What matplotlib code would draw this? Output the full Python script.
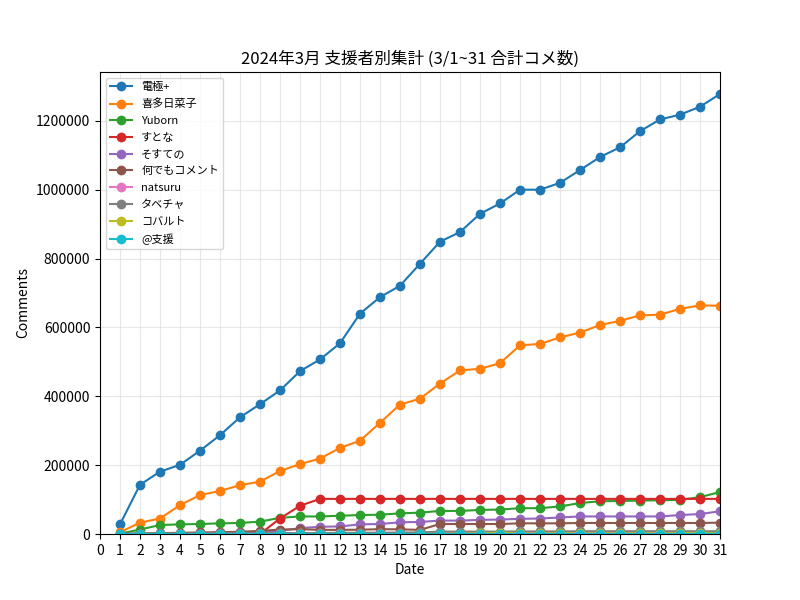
import matplotlib
matplotlib.use("Agg")
from matplotlib import pyplot as plt

plt.rcParams['font.family'] = ['Noto Sans CJK JP', 'DejaVu Sans']

days = list(range(1, 32))

names = ["電極+", "喜多日菜子", "Yuborn", "すとな", "そすての",
         "何でもコメント", "natsuru", "タベチャ", "コバルト", "@支援"]

denkyoku = [28000, 143000, 181000, 201000, 242000, 287000, 339000, 377000, 417000, 473000,
            507000, 554000, 640000, 688000, 721000, 785000, 849000, 877000, 930000, 960000,
            1000000, 1000000, 1020000, 1057000, 1095000, 1123000, 1170000, 1204000, 1218000, 1241000, 1278000]
kita = [5000, 33000, 45000, 84000, 113000, 125000, 142000, 152000, 183000, 203000,
        219000, 250000, 271000, 323000, 376000, 393000, 437000, 475000, 480000, 496000,
        548000, 552000, 571000, 585000, 607000, 619000, 635000, 637000, 654000, 664000, 663000]
yuborn = [1000, 13000, 26000, 28000, 29000, 31000, 32000, 36000, 47000, 51000,
          51000, 53000, 55000, 56000, 60000, 62000, 67000, 67000, 70000, 71000,
          75000, 75000, 80000, 90000, 95000, 96000, 97000, 98000, 99000, 107000, 122000]
stona = [0, 0, 0, 0, 0, 0, 0, 0, 45000, 82000,
         102000, 102000, 102000, 102000, 102000, 102000, 102000, 102000, 102000, 102000,
         102000, 102000, 102000, 102000, 102000, 102000, 102000, 102000, 102000, 102000, 102000]
sosuteno = [500, 1000, 1500, 2000, 2500, 3000, 3500, 5000, 9000, 17000,
            21000, 22000, 28000, 29000, 34000, 35000, 39000, 39000, 41000, 42000,
            44000, 45000, 48000, 51000, 51000, 51000, 51000, 51000, 55000, 58000, 66000]
nandemo = [500, 1500, 2500, 3500, 4500, 5500, 6500, 9000, 13000, 14000,
           12000, 12000, 12500, 14000, 13500, 12000, 29000, 29000, 29000, 29000,
           31000, 31000, 31000, 32000, 32000, 32000, 32000, 32000, 32000, 32000, 33000]
natsuru = [0, 200, 400, 600, 800, 1000, 1200, 1400, 1600, 1800,
           2000, 2200, 2400, 2600, 2800, 3000, 4000, 4000, 4000, 4000,
           4500, 4500, 4500, 5000, 5000, 5000, 5000, 5000, 5000, 5000, 5000]
tabecha = [0, 300, 600, 900, 1200, 1500, 1800, 2100, 2400, 2700,
           3000, 3300, 3600, 3900, 4200, 4500, 7000, 7000, 7000, 7000,
           7500, 7500, 7500, 8000, 8000, 8000, 8000, 8000, 8000, 8000, 8000]
kobaruto = [0, 0, 0, 0, 0, 0, 0, 0, 0, 0,
            0, 0, 0, 0, 0, 0, 500, 1000, 1500, 4000,
            1500, 1500, 2000, 2000, 2000, 2000, 2000, 2000, 2500, 3500, 2500]
shien = [0, 0, 0, 0, 0, 0, 0, 0, 0, 0,
         0, 0, 0, 0, 0, 0, 0, 0, 0, 0,
         0, 0, 0, 0, 0, 0, 0, 0, 0, 500, 500]

series = [denkyoku, kita, yuborn, stona, sosuteno, nandemo, natsuru, tabecha, kobaruto, shien]

fig, ax = plt.subplots(figsize=(8, 6), dpi=100)
for name, vals in zip(names, series):
    ax.plot(days, vals, marker='o', label=name)

ax.set_xlim(0, 31)
ax.set_ylim(bottom=0)
ax.set_xticks(range(0, 32))
ax.grid(True, color='#d8d8d8', alpha=0.6)
ax.ticklabel_format(axis='y', style='plain')
ax.set_xlabel("Date")
ax.set_ylabel("Comments")
ax.set_title("2024年3月 支援者別集計 (3/1~31 合計コメ数)")
ax.legend(loc='upper left', fontsize=8, labelspacing=0.6)

plt.savefig('out.png', dpi=100)
